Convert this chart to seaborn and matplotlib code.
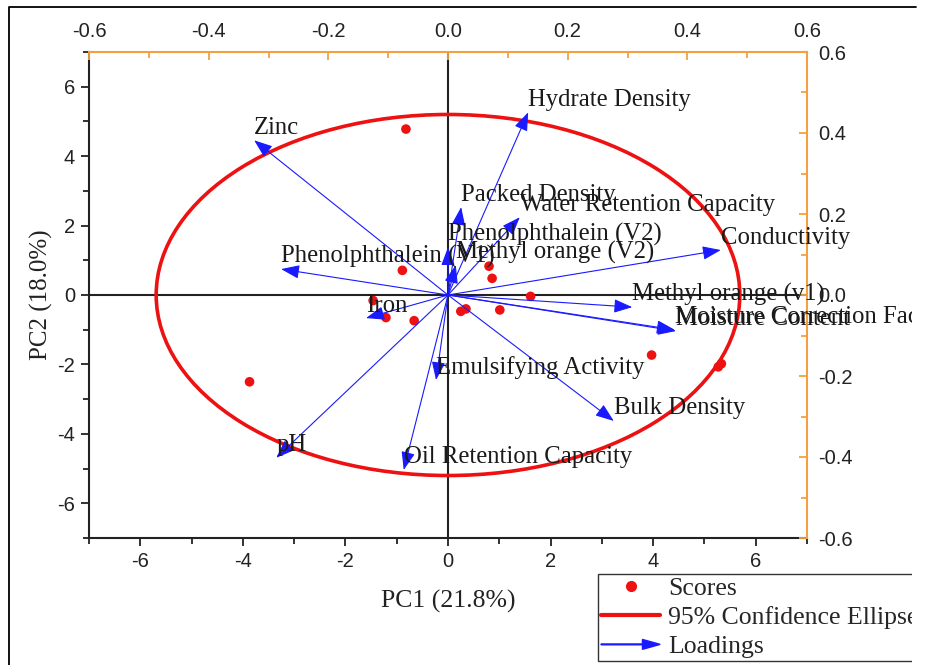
import numpy as np
import pandas as pd
import matplotlib
matplotlib.use("Agg")
import matplotlib.pyplot as plt
import seaborn as sns
from matplotlib.patches import Ellipse, FancyArrow, Rectangle
from matplotlib.lines import Line2D
from matplotlib.legend_handler import HandlerPatch
from matplotlib.ticker import MultipleLocator

# PCA scores (samples)
pc1_scores = [-0.82, -0.89, -1.46, -1.21, -0.66, -3.87, 0.25, 0.35, 0.80, 0.86,
              1.01, 1.61, 3.97, 5.27, 5.33]
pc2_scores = [4.78, 0.71, -0.16, -0.65, -0.74, -2.50, -0.47, -0.40, 0.83, 0.48,
              -0.43, -0.04, -1.73, -2.07, -1.98]

# PCA loadings (variables)
variables = ["Hydrate Density", "Zinc", "Packed Density", "Water Retention Capacity",
             "Phenolphthalein (V2)", "Methyl orange (V2)", "Phenolphthalein (V1)",
             "Conductivity", "Methyl orange (v1)", "Moisture Content",
             "Moisture Correction Factor", "Iron", "Emulsifying Activity",
             "Bulk Density", "pH", "Oil Retention Capacity"]
load_pc1 = [0.134, -0.324, 0.022, 0.120, 0.000, 0.013, -0.279, 0.456, 0.308,
            0.381, 0.379, -0.137, -0.020, 0.277, -0.287, -0.074]
load_pc2 = [0.451, 0.382, 0.217, 0.192, 0.118, 0.074, 0.064, 0.111, -0.030,
            -0.089, -0.086, -0.057, -0.210, -0.311, -0.402, -0.432]

# 95% confidence ellipse of the scores
ellipse_center = (0.0, 0.0)
ellipse_width = 11.38
ellipse_height = 10.40

pc1_label = "PC1 (21.8%)"
pc2_label = "PC2 (18.0%)"

scores = pd.DataFrame({"PC1": pc1_scores, "PC2": pc2_scores})
loadings = pd.DataFrame({"variable": variables, "PC1": load_pc1, "PC2": load_pc2})

sns.set_style("ticks")
plt.rcParams["font.family"] = ["Liberation Sans", "DejaVu Sans"]
plt.rcParams["axes.unicode_minus"] = False
SERIF = ["Liberation Serif", "DejaVu Serif"]
ORANGE = "#f5a040"

W, H = 925, 665
fig = plt.figure(figsize=(W / 100, H / 100), dpi=100)
rect = [89 / W, 1 - 538 / H, 718 / W, 486 / H]
ax = fig.add_axes(rect)

# ---- score axes (bottom / left) ----
ax.set_xlim(-7, 7)
ax.set_ylim(-7, 7)
for s in ["top", "right"]:
    ax.spines[s].set_visible(False)
for s in ["left", "bottom"]:
    ax.spines[s].set_color("#222222")
    ax.spines[s].set_linewidth(1.5)
ax.xaxis.set_major_locator(MultipleLocator(2))
ax.xaxis.set_minor_locator(MultipleLocator(1))
ax.yaxis.set_major_locator(MultipleLocator(2))
ax.yaxis.set_minor_locator(MultipleLocator(1))
ax.tick_params(which="both", direction="out", color="#222222", width=1.3,
               labelsize=14.5, labelcolor="#222222")
ax.tick_params(which="major", length=6, pad=4)
ax.tick_params(which="minor", length=4)

ax.axhline(0, color="#222222", lw=1.5, zorder=1)
ax.axvline(0, color="#222222", lw=1.5, zorder=1)

ell = Ellipse(ellipse_center, ellipse_width, ellipse_height, facecolor="none",
              edgecolor="#ee1111", lw=2.6, zorder=2)
ax.add_patch(ell)

sns.scatterplot(data=scores, x="PC1", y="PC2", ax=ax, color="#ee1111", s=48,
                edgecolor="none", legend=False, zorder=3)

ax.set_xlabel(pc1_label, fontsize=18.5, family=SERIF, color="#222222", labelpad=14)
ax.set_ylabel(pc2_label, fontsize=18, family=SERIF, color="#222222", labelpad=3)

# ---- loading axes (top / right) ----
ax2 = fig.add_axes(rect)
ax2.patch.set_visible(False)
ax2.set_xlim(-0.6, 0.6)
ax2.set_ylim(-0.6, 0.6)
for s in ["left", "bottom"]:
    ax2.spines[s].set_visible(False)
for s in ["top", "right"]:
    ax2.spines[s].set_visible(True)
    ax2.spines[s].set_color(ORANGE)
    ax2.spines[s].set_linewidth(1.5)
ax2.xaxis.tick_top()
ax2.yaxis.tick_right()
ax2.xaxis.set_major_locator(MultipleLocator(0.2))
ax2.xaxis.set_minor_locator(MultipleLocator(0.1))
ax2.yaxis.set_major_locator(MultipleLocator(0.2))
ax2.yaxis.set_minor_locator(MultipleLocator(0.1))
ax2.xaxis.set_major_formatter(plt.FuncFormatter(lambda v, p: f"{v:.1f}"))
ax2.yaxis.set_major_formatter(plt.FuncFormatter(lambda v, p: f"{v:.1f}"))
ax2.tick_params(which="both", direction="in", color=ORANGE, width=1.3,
                labelsize=14.5, labelcolor="#222222")
ax2.tick_params(which="major", length=6)
ax2.tick_params(axis="x", which="major", pad=8)
ax2.tick_params(axis="y", which="major", pad=8)
ax2.tick_params(which="minor", length=4)

for _, row in loadings.iterrows():
    ax2.annotate("", xy=(row.PC1, row.PC2), xytext=(0, 0),
                 arrowprops=dict(arrowstyle="-|>,head_length=0.75,head_width=0.28",
                                 color="#1a1aff", lw=0.8, mutation_scale=15,
                                 shrinkA=0, shrinkB=0), zorder=4)
    ax2.annotate(row.variable, xy=(row.PC1, row.PC2), xytext=(0, 9),
                 textcoords="offset points", ha="left", va="center",
                 fontsize=17.8, family=SERIF, color="#1a1a1a", zorder=5,
                 annotation_clip=False)

# ---- legend ----
def arrow_handle(legend, orig_handle, xdescent, ydescent, width, height, fontsize):
    return FancyArrow(-xdescent, height / 2 - ydescent, width, 0, width=0.6,
                      head_width=height * 0.55, head_length=width * 0.3,
                      length_includes_head=True, color="#1a1aff")

h_scores = Line2D([], [], marker="o", color="#ee1111", linestyle="none", markersize=7)
h_ell = Line2D([], [], color="#ee1111", lw=3)
h_load = FancyArrow(0, 0, 1, 0, color="#1a1aff")
leg = fig.legend([h_scores, h_ell, h_load],
                 ["Scores", "95% Confidence Ellipse", "Loadings"],
                 handler_map={FancyArrow: HandlerPatch(patch_func=arrow_handle)},
                 loc="upper left", bbox_to_anchor=(598 / W, 1 - 574 / H),
                 prop={"family": SERIF, "size": 18.5}, frameon=True,
                 fancybox=False, edgecolor="#333333", framealpha=1,
                 borderpad=0.12, labelspacing=0.24, handlelength=2.3,
                 handletextpad=0.3, borderaxespad=0)
leg.get_frame().set_linewidth(1.0)

# outer frame and right-edge trim
fig.add_artist(Rectangle((912 / W, 0), 1, 1, transform=fig.transFigure,
                         facecolor="white", edgecolor="none", zorder=10))
fig.add_artist(Line2D([9 / W, 9 / W, 916 / W], [0, 1 - 7 / H, 1 - 7 / H],
                      transform=fig.transFigure, color="black", lw=1.3, zorder=11))

fig.savefig("out.png", dpi=100)
